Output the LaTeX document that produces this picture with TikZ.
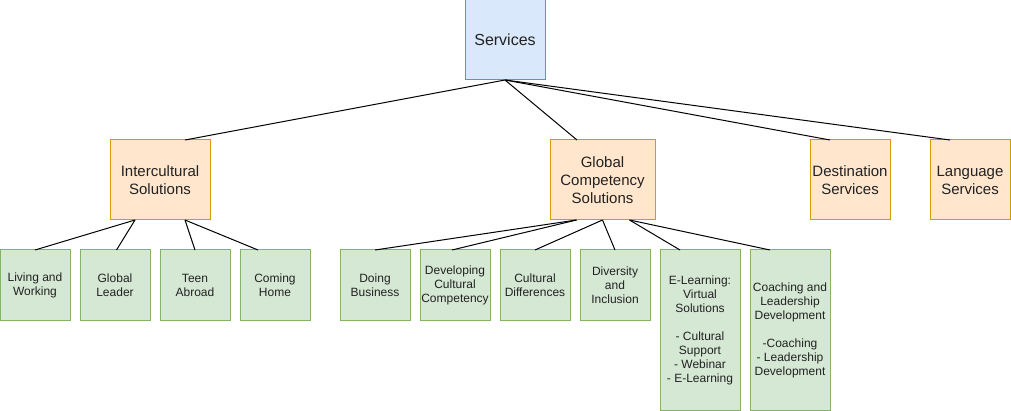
\documentclass[tikz,border=0pt]{standalone}
\usepackage{fontspec}
\setmainfont{Liberation Sans}
\definecolor{bluefill}{HTML}{DAE8FC}
\definecolor{blueline}{HTML}{6C8EBF}
\definecolor{orangefill}{HTML}{FFE6CC}
\definecolor{orangeline}{HTML}{D79B00}
\definecolor{greenfill}{HTML}{D5E8D4}
\definecolor{greenline}{HTML}{82B366}
\definecolor{txt}{HTML}{222222}
\tikzset{
  box/.style={draw, line width=1pt, inner sep=0pt, outer sep=0pt, anchor=north west, align=center, text=txt},
  topbox/.style={box, fill=bluefill, draw=blueline, minimum width=80pt, minimum height=80pt, font=\fontsize{16}{19}\selectfont},
  midbox/.style={box, fill=orangefill, draw=orangeline, minimum height=80pt, font=\fontsize{15}{18}\selectfont},
  leafbox/.style={box, fill=greenfill, draw=greenline, minimum width=70pt, minimum height=70pt, font=\fontsize{12}{14}\selectfont},
  tallbox/.style={leafbox, minimum width=80pt, minimum height=160pt},
  link/.style={draw=black, line width=1pt}
}
\begin{document}
\begin{tikzpicture}[x=1pt,y=-1pt]
\useasboundingbox (0,0) rectangle (1011,411);
\node[topbox] (srv) at (465,0) {Services};
\node[midbox, minimum width=100pt] (ic) at (110,140) {Intercultural\\Solutions};
\node[midbox, minimum width=105pt] (gc) at (550,140) {Global\\Competency\\Solutions};
\node[midbox, minimum width=80pt] (ds) at (810,140) {Destination\\Services};
\node[midbox, minimum width=80pt] (ls) at (930,140) {Language\\Services};
\node[leafbox] (lw) at (0,250) {Living and\\Working};
\node[leafbox] (gl) at (80,250) {Global\\Leader};
\node[leafbox] (ta) at (160,250) {Teen\\Abroad};
\node[leafbox] (ch) at (240,250) {Coming\\Home};
\node[leafbox] (db) at (340,250) {Doing\\Business};
\node[leafbox] (dc) at (420,250) {Developing\\Cultural\\Competency};
\node[leafbox] (cd) at (500,250) {Cultural\\Differences};
\node[leafbox] (di) at (580,250) {Diversity\\and\\Inclusion};
\node[tallbox] (el) at (660,250) {E-Learning:\\Virtual\\Solutions\\[14pt]- Cultural\\Support\\- Webinar\\- E-Learning};
\node[tallbox] (co) at (750,250) {Coaching and\\Leadership\\Development\\[14pt]-Coaching\\- Leadership\\Development};
% top level links
\draw[link] (srv.south) -- ([xshift=25pt]ic.north);
\draw[link] (srv.south) -- ([xshift=-25.5pt]gc.north);
\draw[link] (srv.south) -- ([xshift=-20pt]ds.north);
\draw[link] (srv.south) -- ([xshift=-20pt]ls.north);
% intercultural
\draw[link] ([xshift=-25pt]ic.south) -- (lw.north);
\draw[link] ([xshift=-25pt]ic.south) -- ([xshift=1.5pt]gl.north);
\draw[link] ([xshift=25pt]ic.south) -- (ta.north);
\draw[link] ([xshift=25pt]ic.south) -- ([xshift=-17pt]ch.north);
% global competency
\draw[link] ([xshift=-26pt]gc.south) -- (db.north);
\draw[link] ([xshift=-26pt]gc.south) -- ([xshift=-3pt]dc.north);
\draw[link] (gc.south) -- (cd.north);
\draw[link] (gc.south) -- (di.north);
\draw[link] ([xshift=27pt]gc.south) -- ([xshift=-20pt]el.north);
\draw[link] ([xshift=27pt]gc.south) -- ([xshift=-20pt]co.north);
\end{tikzpicture}
\end{document}
